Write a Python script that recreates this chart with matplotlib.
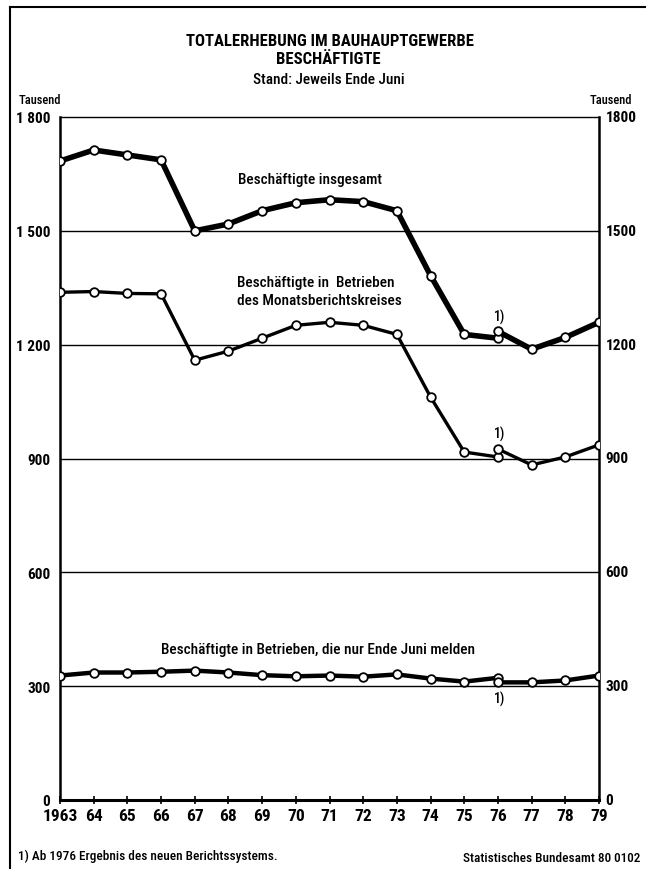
import matplotlib
matplotlib.use("Agg")
import matplotlib.pyplot as plt
from matplotlib.lines import Line2D

plt.rcParams['font.family'] = ['Roboto Condensed', 'DejaVu Sans']

# ---- data (Tausend) ----
years_old = list(range(1963, 1977))
years_new = [1976, 1977, 1978, 1979]

insgesamt_old = [1684, 1713, 1700, 1687, 1500, 1518, 1553, 1574, 1582, 1577, 1553, 1382, 1227, 1217]
insgesamt_new = [1235, 1188, 1219, 1259]

monat_old = [1338, 1340, 1335, 1334, 1159, 1183, 1217, 1251, 1259, 1251, 1227, 1062, 917, 904]
monat_new = [925, 883, 904, 936]

juni_old = [328, 336, 336, 338, 341, 336, 329, 326, 328, 325, 331, 320, 312, 322]
juni_new = [310, 310, 315, 328]

yticks = [0, 300, 600, 900, 1200, 1500, 1800]
ylabels_left = ['0', '300', '600', '900', '1 200', '1 500', '1 800']
ylabels_right = ['0', '300', '600', '900', '1200', '1500', '1800']
xticklabels = ['1963', '64', '65', '66', '67', '68', '69', '70', '71', '72', '73',
               '74', '75', '76', '77', '78', '79']

fig = plt.figure(figsize=(6.46, 8.70), dpi=100)
ax = fig.add_axes([60/646, 69/870, 539/646, 683/870])

def series(x, y, lw):
    ax.plot(x, y, color='black', lw=lw, marker='o', markersize=6.2,
            markerfacecolor='white', markeredgecolor='black', markeredgewidth=1.3,
            solid_joinstyle='round', zorder=3)

for (yo, yn, lw) in [(insgesamt_old, insgesamt_new, 4.0),
                     (monat_old, monat_new, 2.4),
                     (juni_old, juni_new, 3.2)]:
    series(years_old, yo, lw)
    series(years_new, yn, lw)

ax.set_xlim(1963, 1979)
ax.set_ylim(0, 1800)
for v in yticks[1:-1]:
    ax.axhline(v, color='black', lw=1.0, zorder=1)

ax.set_yticks(yticks)
ax.set_yticklabels(ylabels_left, fontsize=11, fontweight='bold')
ax.tick_params(axis='y', length=0, pad=7)
ytr = ax.get_yaxis_transform()
for v, lab in zip(yticks, ylabels_right):
    ax.text(1.012, v, lab, transform=ytr, ha='left', va='center',
            fontsize=11, fontweight='bold', clip_on=False)

ax.set_xticks(list(range(1963, 1980)))
ax.set_xticklabels(xticklabels, fontsize=12.5, fontweight='bold')
ax.tick_params(axis='x', direction='inout', length=6, width=1.2, pad=3)

for s in ['left', 'right']:
    ax.spines[s].set_linewidth(1.8)
ax.spines['bottom'].set_linewidth(2.2)
ax.spines['top'].set_linewidth(1.0)

# series labels
lab_kw = dict(va='center', fontsize=11, fontweight='medium')
ax.text(1968.27, 1637, 'Beschäftigte insgesamt', ha='left', **lab_kw)
ax.text(1968.24, 1364, 'Beschäftigte in  Betrieben', ha='left', **lab_kw)
ax.text(1968.24, 1317, 'des Monatsberichtskreises', ha='left', **lab_kw)
ax.text(1966.0, 399, 'Beschäftigte in Betrieben, die nur Ende Juni melden', ha='left', **lab_kw)
ax.text(1976.05, 1275, '1)', ha='center', va='center', fontsize=10, fontweight='medium')
ax.text(1976.05, 967, '1)', ha='center', va='center', fontsize=10, fontweight='medium')
ax.text(1976.05, 268, '1)', ha='center', va='center', fontsize=10, fontweight='medium')

# titles
fig.text(330/646, 1 - 42/870, 'TOTALERHEBUNG IM BAUHAUPTGEWERBE', ha='center', va='center',
         fontsize=12, fontweight='bold')
fig.text(328/646, 1 - 59/870, 'BESCHÄFTIGTE', ha='center', va='center',
         fontsize=12, fontweight='bold')
fig.text(329/646, 1 - 80/870, 'Stand: Jeweils Ende Juni', ha='center', va='center',
         fontsize=11, fontweight='medium')
fig.text(19/646, 1 - 101/870, 'Tausend', ha='left', va='center', fontsize=9, fontweight='medium')
fig.text(632/646, 1 - 101/870, 'Tausend', ha='right', va='center', fontsize=9, fontweight='medium')

# footer
fig.text(18/646, 1 - 856/870, '1) Ab 1976 Ergebnis des neuen Berichtssystems.', ha='left',
         va='center', fontsize=9.5, fontweight='medium')
fig.text(640/646, 1 - 859/870, 'Statistisches Bundesamt 80 0102', ha='right',
         va='center', fontsize=9.5, fontweight='medium')

# page frame
fig.add_artist(Line2D([10/646, 10/646], [0, 1 - 8/870], transform=fig.transFigure,
                      color='black', lw=1.5))
fig.add_artist(Line2D([10/646, 1], [1 - 8/870, 1 - 8/870], transform=fig.transFigure,
                      color='black', lw=1.5))

fig.savefig('out.png', dpi=100, facecolor='white')
